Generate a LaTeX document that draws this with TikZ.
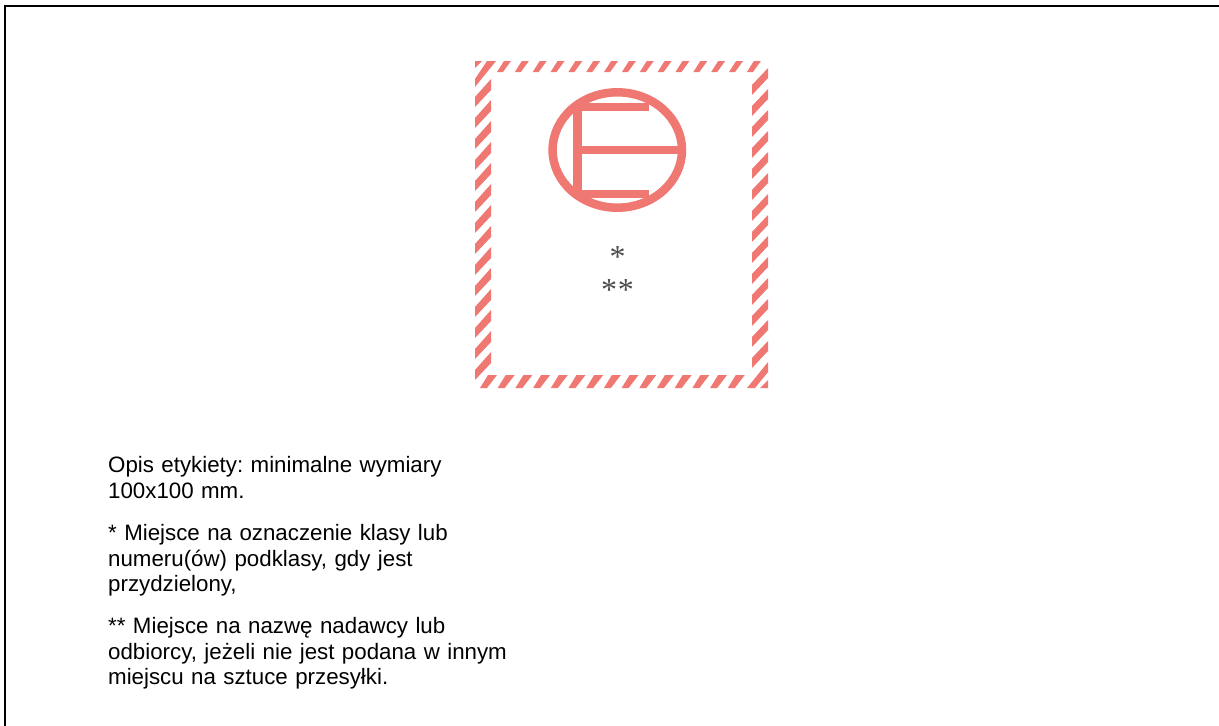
\documentclass[tikz,border=0pt]{standalone}
\usepackage{fontspec}
\setmainfont{Liberation Sans}
\newfontfamily\serifstar{Liberation Serif}
\definecolor{labelred}{RGB}{240,120,115}
\tikzset{
 frameline/.style={draw=black,line width=1.7pt},
 emblem/.style={draw=labelred,line width=8.5pt},
 bar/.style={fill=labelred},
 stripe/.style={fill=labelred},
 note/.style={anchor=north west,align=left,text width=420pt,font=\fontsize{22.3}{25.8}\selectfont\frenchspacing,inner sep=0pt},
 starmark/.style={text=black!70,font=\serifstar\fontsize{32}{32}\selectfont,inner sep=0pt}
}
\begin{document}
\begin{tikzpicture}[x=1pt,y=-1pt]
\useasboundingbox (0,0) rectangle (1219,726);
\draw[frameline] (5,726) -- (5,6) -- (1219,6);
% top band
\foreach \k in {0,...,14}{
  \fill[stripe] ({497+17.85*\k},72) -- ({503+17.85*\k},72) -- ({511+17.85*\k},61) -- ({504+17.85*\k},61) -- cycle;
}
% bottom band
\foreach \k in {0,...,14}{
  \fill[stripe] ({480+17.7*\k},388) -- ({487+17.7*\k},388) -- ({497+17.7*\k},375) -- ({488+17.7*\k},375) -- cycle;
}
% left band
\foreach \k in {0,...,13}{
  \fill[stripe] (475,{97+21*\k}) -- (475,{107+21*\k}) -- (491,{90+21*\k}) -- (491,{79+21*\k}) -- cycle;
}
% right band
\foreach \k in {0,...,13}{
  \fill[stripe] (752,{85+21*\k}) -- (752,{95+21*\k}) -- (768,{78+21*\k}) -- (768,{68+21*\k}) -- cycle;
}
% corner pieces
\fill[stripe] (475,61) -- (482,61) -- (475,68) -- cycle;
\fill[stripe] (475,79) -- (487,61) -- (496,61) -- (475,87) -- cycle;
\fill[stripe] (747,388) -- (755,388) -- (768,372) -- (768,362) -- cycle;
\fill[stripe] (760,388) -- (768,388) -- (768,380) -- cycle;
% emblem
\node[inner sep=0pt] (emblemcentre) at (617.3,150) {};
\draw[emblem] (emblemcentre) ellipse [x radius=64.7,y radius=57.7];
\fill[bar] (573,103) rectangle (582,198);
\fill[bar] (573,103) rectangle (649,111);
\fill[bar] (573,146) rectangle (680,154);
\fill[bar] (573,190) rectangle (649,198);
% asterisks
\node[starmark] (oneStar) at (617.5,257) {*};
\node[starmark] (twoStars) at (617.5,290) {*\kern1pt*};
% notes
\node[note] (n1) at (108,456) {Opis etykiety: minimalne wymiary\\100x100 mm.};
\node[note] (n2) at (108,524) {* Miejsce na oznaczenie klasy lub\\numeru(ów) podklasy, gdy jest\\przydzielony,};
\node[note] (n3) at (108,617) {** Miejsce na nazwę nadawcy lub\\odbiorcy, jeżeli nie jest podana w innym\\miejscu na sztuce przesyłki.};
\end{tikzpicture}
\end{document}
